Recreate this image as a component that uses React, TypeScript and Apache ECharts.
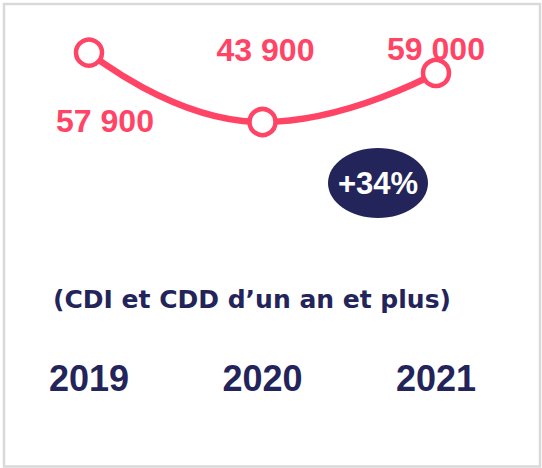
import React, { useEffect, useRef } from "react";
import * as echarts from "echarts";

// Categories (years)
const years = ["2019", "2020", "2021"];
// Printed value labels
const valueLabels = ["57 900", "43 900", "59 000"];
// Plotted positions (the original drawing does not follow the printed labels)
const plotted = [57900, 43900, 53800];
const subtitle = "(CDI et CDD d’un an et plus)";
const badgeText = "+34%";

const PINK = "#FF4466";
const NAVY = "#23245A";
const FONT = "'Liberation Sans', Arial, sans-serif";
const FONT2 = "'DejaVu Sans', sans-serif";

const labelOffsets: [number, number][] = [
  [16, 68],
  [3, -72],
  [0, -24],
];

export default function App() {
  const ref = useRef<HTMLDivElement>(null);
  useEffect(() => {
    if (!ref.current) return;
    const chart = echarts.init(ref.current, undefined, { renderer: "svg" });
    chart.setOption({
      animation: false,
      backgroundColor: "#ffffff",
      grid: { left: 89, right: 106, top: 30, height: 330 },
      xAxis: {
        type: "category",
        data: years,
        boundaryGap: false,
        axisLine: { show: false },
        axisTick: { show: false },
        axisLabel: {
          margin: 0,
          verticalAlign: "top",
          padding: [0, 0, 0, 0],
          color: NAVY,
          fontFamily: FONT,
          fontWeight: "bold",
          fontSize: 36,
          lineHeight: 36,
        },
      },
      yAxis: {
        type: "value",
        min: -4100,
        max: 62460,
        show: false,
        splitLine: { show: false },
      },
      series: [
        {
          type: "line",
          data: plotted.map((v, i) => ({
            value: v,
            label: {
              show: true,
              position: "inside",
              offset: labelOffsets[i],
              formatter: () => valueLabels[i],
            },
          })),
          smooth: 0.5,
          symbol: "circle",
          symbolSize: 26,
          showAllSymbol: true,
          lineStyle: { color: PINK, width: 6.5 },
          itemStyle: { color: "#ffffff", borderColor: PINK, borderWidth: 4.5 },
          label: {
            color: PINK,
            fontFamily: FONT,
            fontWeight: "bold",
            fontSize: 32,
          },
          z: 3,
        },
      ],
      graphic: [
        {
          type: "rect",
          shape: { x: 4, y: 4, width: 536, height: 462.5 },
          style: { fill: "none", stroke: "#D9D9D9", lineWidth: 2.5 },
          silent: true,
        },
        {
          type: "ellipse",
          shape: { cx: 378, cy: 183, rx: 50, ry: 35 },
          style: { fill: NAVY },
        },
        {
          type: "text",
          x: 378,
          y: 183,
          style: {
            text: badgeText,
            fill: "#ffffff",
            font: `bold 31px ${FONT}`,
            align: "center",
            verticalAlign: "middle",
          },
        },
        {
          type: "text",
          x: 53,
          y: 299,
          style: {
            text: subtitle,
            fill: NAVY,
            font: `bold 25px ${FONT2}`,
            align: "left",
            verticalAlign: "middle",
          },
        },
      ],
    });
    return () => chart.dispose();
  }, []);
  return (
    <div
      ref={ref}
      style={{ position: "fixed", left: 0, top: 0, width: 542, height: 468 }}
    />
  );
}
